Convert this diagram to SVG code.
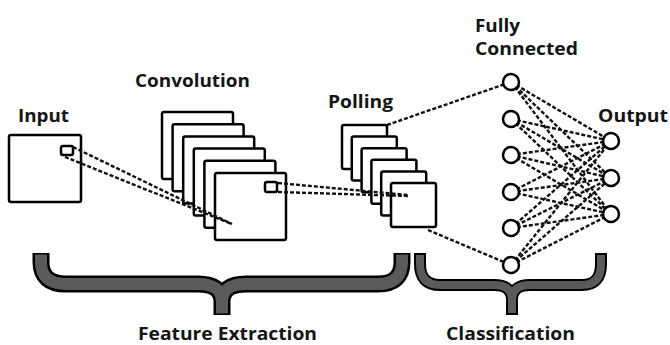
<svg xmlns="http://www.w3.org/2000/svg" width="670" height="345" viewBox="0 0 670 345">
<style>
.lbl{font-family:"Open Sans","DejaVu Sans",sans-serif;font-weight:700;font-size:17px;fill:#151515}
.big{font-size:18px}
.frame{fill:#fff;stroke:#000;stroke-width:2.5}
.dash{fill:none;stroke:#111;stroke-width:2.4;stroke-dasharray:4 2}
.node{fill:#fff;stroke:#000;stroke-width:2.5}
.braceO{fill:none;stroke:#000}
.braceI{fill:none;stroke:#5a5a5a}
</style>
<rect width="670" height="345" fill="#fff"/>

<g id="input">
<rect class="frame" x="9" y="135" width="72" height="67" rx="2"/>
<rect class="frame" x="61" y="146" width="12" height="9" rx="2"/>
<text class="lbl" x="18" y="122" textLength="51" lengthAdjust="spacingAndGlyphs">Input</text>
</g>

<g id="convolution">
<text class="lbl" x="135" y="87" textLength="115" lengthAdjust="spacingAndGlyphs">Convolution</text>
<rect class="frame" x="162" y="112" width="71" height="67" rx="2"/>
<rect class="frame" x="172.6" y="124.2" width="71" height="67" rx="2"/>
<rect class="frame" x="183.2" y="136.4" width="71" height="67" rx="2"/>
<rect class="frame" x="193.8" y="148.6" width="71" height="67" rx="2"/>
<rect class="frame" x="204.4" y="160.8" width="71" height="67" rx="2"/>
<rect class="frame" x="215" y="173" width="71" height="67" rx="2"/>
<rect class="frame" x="265" y="182" width="12" height="10" rx="2"/>
</g>

<g id="pooling">
<text class="lbl" x="328" y="108" textLength="65" lengthAdjust="spacingAndGlyphs">Polling</text>
<rect class="frame" x="342" y="125" width="45" height="44" rx="2"/>
<rect class="frame" x="351.8" y="136.6" width="45" height="44" rx="2"/>
<rect class="frame" x="361.6" y="148.2" width="45" height="44" rx="2"/>
<rect class="frame" x="371.4" y="159.8" width="45" height="44" rx="2"/>
<rect class="frame" x="381.2" y="171.4" width="45" height="44" rx="2"/>
<rect class="frame" x="391" y="183" width="45" height="44" rx="2"/>
</g>

<g id="connectors">
<line class="dash" x1="73" y1="147" x2="232" y2="224"/>
<line class="dash" x1="65" y1="157" x2="232" y2="224"/>
<line class="dash" x1="278" y1="183" x2="408" y2="195"/>
<line class="dash" x1="278" y1="192" x2="408" y2="196"/>
<line class="dash" x1="387" y1="125" x2="511" y2="82"/>
<line class="dash" x1="428" y1="230" x2="511" y2="265"/>
<g id="fc-out">
<line class="dash" x1="511" y1="82" x2="611" y2="141"/><line class="dash" x1="511" y1="82" x2="611" y2="178"/><line class="dash" x1="511" y1="82" x2="611" y2="214"/>
<line class="dash" x1="511" y1="119" x2="611" y2="141"/><line class="dash" x1="511" y1="119" x2="611" y2="178"/><line class="dash" x1="511" y1="119" x2="611" y2="214"/>
<line class="dash" x1="511" y1="155" x2="611" y2="141"/><line class="dash" x1="511" y1="155" x2="611" y2="178"/><line class="dash" x1="511" y1="155" x2="611" y2="214"/>
<line class="dash" x1="511" y1="192" x2="611" y2="141"/><line class="dash" x1="511" y1="192" x2="611" y2="178"/><line class="dash" x1="511" y1="192" x2="611" y2="214"/>
<line class="dash" x1="511" y1="228" x2="611" y2="141"/><line class="dash" x1="511" y1="228" x2="611" y2="178"/><line class="dash" x1="511" y1="228" x2="611" y2="214"/>
<line class="dash" x1="511" y1="265" x2="611" y2="141"/><line class="dash" x1="511" y1="265" x2="611" y2="178"/><line class="dash" x1="511" y1="265" x2="611" y2="214"/>
</g>
</g>

<g id="fully-connected">
<text class="lbl" x="475" y="32" textLength="45" lengthAdjust="spacingAndGlyphs">Fully</text>
<text class="lbl" x="475" y="55" textLength="103" lengthAdjust="spacingAndGlyphs">Connected</text>
<circle class="node" cx="511" cy="82" r="8"/>
<circle class="node" cx="511" cy="119" r="8"/>
<circle class="node" cx="511" cy="155" r="8"/>
<circle class="node" cx="511" cy="192" r="8"/>
<circle class="node" cx="511" cy="228" r="8"/>
<circle class="node" cx="511" cy="265" r="8"/>
</g>

<g id="output">
<text class="lbl" x="598" y="122" textLength="70" lengthAdjust="spacingAndGlyphs">Output</text>
<circle class="node" cx="611" cy="141" r="8"/>
<circle class="node" cx="611" cy="178" r="8"/>
<circle class="node" cx="611" cy="214" r="8"/>
</g>

<g id="feature-extraction">
<path class="braceO" stroke-width="17" d="M41,253 V262 Q41,284 66,284 H198 Q222,284 222,302 V315 M222,302 Q222,284 246,284 H378 Q402,284 402,262 V253"/>
<path class="braceI" stroke-width="12" d="M41,254.5 V262 Q41,284 66,284 H198 Q222,284 222,302 V313.5 M222,302 Q222,284 246,284 H378 Q402,284 402,262 V254.5"/>
<text class="lbl big" x="138" y="340" textLength="179" lengthAdjust="spacingAndGlyphs">Feature Extraction</text>
</g>

<g id="classification">
<path class="braceO" stroke-width="12" d="M420,253 V264 Q420,285 440,285 H494 Q512,285 512,300 V315 M512,300 Q512,285 530,285 H582 Q601,285 601,264 V253"/>
<path class="braceI" stroke-width="8" d="M420,255 V264 Q420,285 440,285 H494 Q512,285 512,300 V313 M512,300 Q512,285 530,285 H582 Q601,285 601,264 V255"/>
<text class="lbl big" x="446" y="340" textLength="129" lengthAdjust="spacingAndGlyphs">Classification</text>
</g>
</svg>
